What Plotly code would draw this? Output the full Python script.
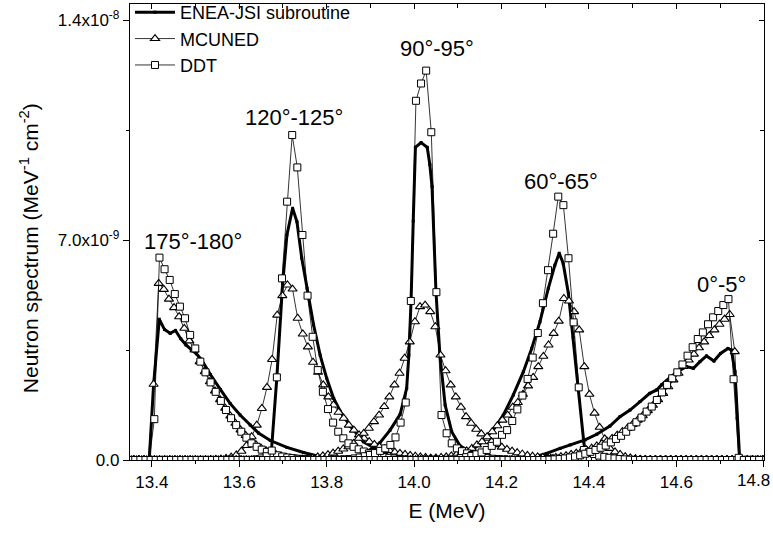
import plotly.graph_objects as go

# spectra, in units of 1e-9 MeV^-1 cm^-2
SCALE = 1e-9
STEP = 0.0117          # energy bin width of the MCUNED / DDT tallies (MeV)
E_MIN, E_MAX = 13.35, 14.8

# --- DDT (open squares): first listed bin energy + values ---
ddt_x0 = [13.4057, 13.6392, 13.8287, 14.0724, 14.3097]
ddt_175 = [1.30, 6.44, 6.07, 5.73, 5.28, 4.88, 4.51, 3.98, 3.55, 3.13, 2.79, 2.47, 2.17, 1.88,
           1.59, 1.33, 1.11, 0.90, 0.71, 0.53, 0.42, 0.33, 0.26, 0.20, 0.15, 0.11, 0.08, 0.06,
           0.04, 0.03, 0.02, 0.01]
ddt_120 = [0.02, 0.05, 0.12, 0.30, 2.63, 5.78, 8.22, 10.34, 9.31, 7.16, 5.23, 3.92, 2.86, 2.17,
           1.62, 1.19, 0.90, 0.69, 0.53, 0.42, 0.34, 0.27, 0.21, 0.16, 0.12, 0.09, 0.07, 0.05,
           0.03, 0.02, 0.01]
ddt_90 = [0.01, 0.02, 0.03, 0.05, 0.08, 0.12, 0.16, 0.22, 0.29, 0.37, 0.48, 0.72, 1.19, 1.83,
          5.06, 11.43, 11.98, 12.39, 10.43, 5.34, 1.43, 0.85, 0.53, 0.37, 0.28, 0.21, 0.16, 0.12,
          0.09, 0.06, 0.04, 0.03, 0.02, 0.01]
ddt_60 = [0.01, 0.02, 0.04, 0.06, 0.09, 0.13, 0.18, 0.24, 0.32, 0.45, 0.58, 0.80, 0.95, 1.24,
          1.61, 2.05, 2.58, 3.26, 4.04, 4.99, 6.04, 7.20, 8.38, 8.11, 6.42, 4.38, 2.31, 0.32,
          0.25, 0.19, 0.14, 0.10, 0.07, 0.05, 0.03, 0.02, 0.01]
ddt_0 = [0.01, 0.02, 0.03, 0.05, 0.08, 0.11, 0.15, 0.20, 0.26, 0.32, 0.39, 0.46, 0.56, 0.67,
         0.77, 0.90, 1.06, 1.20, 1.35, 1.54, 1.70, 1.91, 2.15, 2.39, 2.60, 2.79, 3.04, 3.32,
         3.59, 3.85, 4.06, 4.32, 4.54, 4.74, 4.93, 5.12, 2.57, 0.07]

# --- MCUNED (open triangles) ---
mcuned_x0 = [13.404, 13.5347, 13.721, 14.0033, 14.2774]
mcuned_175 = [2.41, 5.62, 5.43, 5.12, 4.85, 4.56, 4.19, 3.79, 3.50, 3.13, 2.81, 2.49, 2.20, 1.92,
              1.65, 1.40, 1.17, 0.96, 0.78, 0.62, 0.49, 0.38, 0.29, 0.22, 0.16, 0.12, 0.08,
              0.05, 0.03, 0.02, 0.01]
mcuned_120 = [0.01, 0.02, 0.03, 0.05, 0.09, 0.16, 0.28, 0.46, 0.74, 1.11, 1.64, 2.31, 3.20, 4.61,
              5.23, 5.57, 5.44, 4.51, 4.01, 3.60, 3.11, 2.79, 2.39, 2.01, 1.75, 1.52, 1.33, 1.11,
              0.95, 0.80, 0.69, 0.58, 0.50, 0.42, 0.36, 0.30, 0.25, 0.21, 0.18, 0.15, 0.12,
              0.10, 0.08, 0.06, 0.05, 0.04, 0.03, 0.02, 0.01]
mcuned_90 = [0.01, 0.02, 0.03, 0.05, 0.07, 0.10, 0.13, 0.17, 0.22, 0.28, 0.35, 0.42, 0.53, 0.69,
             0.85, 1.01, 1.22, 1.43, 1.70, 2.01, 2.39, 2.76, 3.24, 3.76, 4.40, 4.88, 4.93, 4.72,
             4.24, 3.34, 2.84, 2.39, 2.01, 1.68, 1.38, 1.17, 0.98, 0.83, 0.69, 0.58, 0.49, 0.41,
             0.34, 0.28, 0.23, 0.19, 0.15, 0.12, 0.10, 0.08, 0.06, 0.05, 0.04, 0.03, 0.02, 0.01]
mcuned_60 = [0.01, 0.02, 0.03, 0.04, 0.06, 0.08, 0.10, 0.13, 0.17, 0.22, 0.29, 0.37, 0.48, 0.58,
             0.74, 0.90, 1.09, 1.27, 1.43, 1.68, 1.83, 2.09, 2.36, 2.63, 2.97, 3.30, 3.66, 4.03,
             4.42, 5.14, 5.06, 4.72, 4.14, 2.97, 2.09, 1.49, 1.04, 0.67, 0.37, 0.26, 0.18, 0.11,
             0.07, 0.04, 0.02, 0.01]
mcuned_0 = [0.01, 0.02, 0.04, 0.06, 0.08, 0.11, 0.14, 0.18, 0.22, 0.27, 0.32, 0.38, 0.45, 0.52,
            0.60, 0.69, 0.79, 0.90, 1.01, 1.13, 1.27, 1.41, 1.57, 1.74, 1.92, 2.12, 2.33, 2.55,
            2.76, 2.98, 3.18, 3.37, 3.57, 3.76, 3.96, 4.14, 4.32, 4.48, 4.63, 3.45, 0.0]

# --- ENEA-JSI subroutine (thick line): energy / value pairs ---
enea_175_e = [13.394, 13.404, 13.417, 13.429, 13.442, 13.454, 13.466, 13.478, 13.49, 13.502,
              13.513, 13.534, 13.557, 13.579, 13.602, 13.625, 13.644, 13.671, 13.709, 13.747,
              13.785, 13.815]
enea_175 = [0.0, 2.4, 4.48, 4.15, 4.03, 4.12, 3.86, 3.66, 3.52, 3.38, 3.20, 2.72, 2.24, 1.80,
            1.43, 1.11, 0.86, 0.62, 0.40, 0.24, 0.10, 0.0]
enea_120_e = [13.672, 13.686, 13.699, 13.709, 13.722, 13.732, 13.743, 13.755, 13.770, 13.785,
              13.800, 13.816, 13.831, 13.854, 13.884, 13.911, 13.94, 13.97]
enea_120 = [0.0, 2.63, 5.57, 7.16, 8.01, 7.58, 6.42, 5.46, 4.30, 3.34, 2.60, 1.96, 1.55, 1.08,
            0.58, 0.37, 0.15, 0.0]
enea_90_e = [13.86, 13.885, 13.907, 13.922, 13.945, 13.968, 13.983, 13.988, 13.993, 13.998,
             14.003, 14.016, 14.030, 14.036, 14.041, 14.050, 14.059, 14.071, 14.086, 14.105,
             14.128, 14.16, 14.19]
enea_90 = [0.0, 0.2, 0.40, 0.55, 0.95, 1.45, 2.28, 3.34, 5.04, 7.6, 9.95, 10.1, 9.95, 9.4, 8.7,
           5.36, 3.34, 1.75, 0.90, 0.45, 0.26, 0.08, 0.0]
enea_60_e = [14.06, 14.10, 14.128, 14.151, 14.181, 14.204, 14.227, 14.25, 14.269, 14.288,
             14.307, 14.322, 14.332, 14.341, 14.353, 14.364, 14.376, 14.388, 14.394]
enea_60 = [0.0, 0.1, 0.26, 0.53, 0.95, 1.43, 2.07, 2.81, 3.55, 4.40, 5.46, 6.20, 6.58, 6.26,
           5.3, 3.9, 2.2, 0.6, 0.0]
enea_0_e = [14.25, 14.303, 14.334, 14.357, 14.391, 14.418, 14.448, 14.471, 14.494, 14.517,
            14.539, 14.555, 14.566, 14.585, 14.604, 14.623, 14.639, 14.654, 14.669, 14.686,
            14.701, 14.718, 14.726, 14.734, 14.739, 14.745]
enea_0 = [0.0, 0.21, 0.37, 0.48, 0.64, 0.82, 1.08, 1.38, 1.59, 1.86, 2.12, 2.23, 2.39, 2.62,
          2.83, 2.97, 2.92, 3.13, 3.31, 3.15, 3.39, 3.55, 3.50, 2.81, 1.33, 0.0]

label_text = ["175°-180°", "120°-125°", "90°-95°", "60°-65°", "0°-5°"]
label_e = [13.495, 13.725, 14.053, 14.336, 14.703]
label_v = [6.95, 10.9, 13.1, 8.85, 5.6]

x_ticks = [13.4, 13.6, 13.8, 14.0, 14.2, 14.4, 14.6, 14.8]
# the last label sits on the window edge; it is drawn separately, right-aligned
x_ticktext = ["13.4", "13.6", "13.8", "14.0", "14.2", "14.4", "14.6", ""]
x_minor = [13.5, 13.7, 13.9, 14.1, 14.3, 14.5, 14.7]
y_ticks = [0.0, 7.0e-9, 1.4e-8]
y_ticktext = ["0.0", "7.0x10<sup>-9</sup>", "1.4x10<sup>-8</sup>"]
y_minor = [3.5e-9, 1.05e-8]
Y_TOP = 1.451e-8
X_RANGE = [E_MIN, E_MAX + 0.0005]

FONT = "Arial, 'Liberation Sans', sans-serif"


def _binned(x0, values):
    # tally bins run over the whole energy range, zero outside the peak
    n_left = int((x0 - E_MIN) / STEP)
    start = x0 - n_left * STEP
    ys = [0.0] * n_left + list(values)
    n_total = int((E_MAX - start) / STEP) + 1
    ys += [0.0] * max(0, n_total - len(ys))
    xs = [start + i * STEP for i in range(len(ys))]
    return xs, [v * SCALE for v in ys]


fig = go.Figure()

enea_e = [enea_175_e, enea_120_e, enea_90_e, enea_60_e, enea_0_e]
enea_v = [enea_175, enea_120, enea_90, enea_60, enea_0]
for i, (xs, vs) in enumerate(zip(enea_e, enea_v)):
    fig.add_trace(go.Scatter(
        x=xs, y=[v * SCALE for v in vs], mode="lines+markers", name="ENEA-JSI subroutine",
        legendgroup="enea", showlegend=(i == 0),
        line=dict(color="black", width=3),
        marker=dict(symbol="square", size=3, color="black")))

mcuned = [mcuned_175, mcuned_120, mcuned_90, mcuned_60, mcuned_0]
for i, (x0, vs) in enumerate(zip(mcuned_x0, mcuned)):
    xs, ys = _binned(x0, vs)
    fig.add_trace(go.Scatter(
        x=xs, y=ys, mode="lines+markers", name="MCUNED",
        legendgroup="mcuned", showlegend=(i == 0),
        line=dict(color="black", width=0.8),
        marker=dict(symbol="triangle-up", size=8, color="white",
                    line=dict(width=1.1, color="black"))))

ddt = [ddt_175, ddt_120, ddt_90, ddt_60, ddt_0]
for i, (x0, vs) in enumerate(zip(ddt_x0, ddt)):
    xs, ys = _binned(x0, vs)
    fig.add_trace(go.Scatter(
        x=xs, y=ys, mode="lines+markers", name="DDT",
        legendgroup="ddt", showlegend=(i == 0),
        line=dict(color="black", width=0.8),
        marker=dict(symbol="square", size=7, color="white", line=dict(width=1, color="black"))))

# dummy trace so the mirrored (inside-tick) top/right axes get drawn
fig.add_trace(go.Scatter(x=[], y=[], xaxis="x2", yaxis="y2", showlegend=False,
                         hoverinfo="skip"))

for txt, e, v in zip(label_text, label_e, label_v):
    fig.add_annotation(x=e, y=v * SCALE, text=txt, showarrow=False,
                       font=dict(size=22, color="black", family=FONT))

fig.add_annotation(x=x_ticks[-1], xref="x", y=0, yref="paper", text="14.8", showarrow=False,
                   xanchor="right", yanchor="top", xshift=8, yshift=-9,
                   font=dict(size=17, color="black", family=FONT))

# y title sits a little below the middle of the axis in the original
fig.add_annotation(x=-0.159, xref="paper", y=0.465, yref="paper", textangle=-90,
                   xanchor="center", yanchor="middle",
                   text="Neutron spectrum (MeV<sup>-1</sup> cm<sup>-2</sup>)", showarrow=False,
                   font=dict(size=21, color="black", family=FONT))

axis_common = dict(showgrid=False, zeroline=False, showline=True, linecolor="black",
                   linewidth=1.3, tickcolor="black", tickwidth=1.2, automargin=False)

fig.update_layout(
    width=773, height=535,
    margin=dict(l=130, r=9, t=4, b=75, autoexpand=False),
    paper_bgcolor="white", plot_bgcolor="white",
    font=dict(family=FONT, size=17, color="black"),
    showlegend=True,
    legend=dict(x=0.0, y=1.022, xanchor="left", yanchor="top", bgcolor="rgba(0,0,0,0)",
                font=dict(size=18), tracegroupgap=0, itemwidth=40),
    xaxis=dict(range=X_RANGE, tickmode="array", tickvals=x_ticks, ticktext=x_ticktext,
               ticks="outside", ticklen=6,
               minor=dict(tickmode="array", tickvals=x_minor, ticks="outside", ticklen=3,
                          tickcolor="black"),
               title=dict(text="E (MeV)", font=dict(size=21), standoff=12),
               **axis_common),
    yaxis=dict(range=[0, Y_TOP], tickmode="array", tickvals=y_ticks, ticktext=y_ticktext,
               ticks="outside", ticklen=6,
               minor=dict(tickmode="array", tickvals=y_minor, ticks="outside", ticklen=3,
                          tickcolor="black"),
               **axis_common),
    xaxis2=dict(overlaying="x", side="top", range=X_RANGE, tickmode="array",
                tickvals=x_ticks, showticklabels=False, ticks="inside", ticklen=5,
                minor=dict(tickmode="array", tickvals=x_minor, ticks="inside", ticklen=4,
                           tickcolor="black"),
                **axis_common),
    yaxis2=dict(overlaying="y", side="right", range=[0, Y_TOP], tickmode="array",
                tickvals=y_ticks, showticklabels=False, ticks="inside", ticklen=5,
                minor=dict(tickmode="array", tickvals=y_minor, ticks="inside", ticklen=4,
                           tickcolor="black"),
                **axis_common),
)

# the page body's default 8px margin would shift the figure inside the window
fig.write_html("out.html", config={"displayModeBar": False},
               post_script="document.body.style.margin='0px';")
